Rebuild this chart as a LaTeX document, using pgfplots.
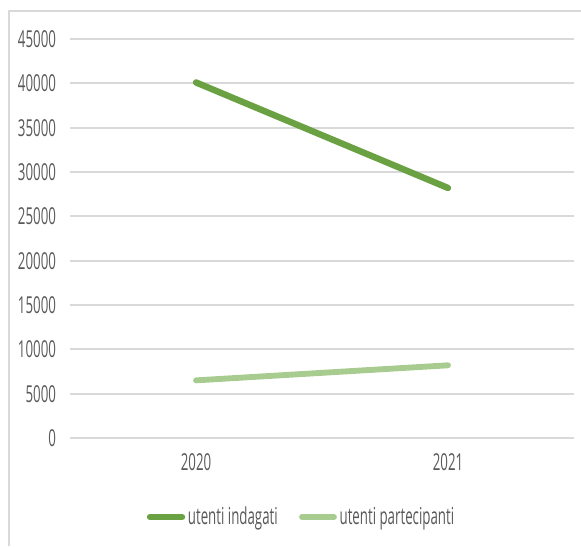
\documentclass[border=0pt]{standalone}
\usepackage{fontspec}
\setmainfont{Open Sans}[FakeStretch=0.57]
\usepackage{pgfplots}
\pgfplotsset{compat=1.18}
\definecolor{darkg}{HTML}{6AA142}
\definecolor{lightg}{HTML}{A8CC90}
\definecolor{gridc}{HTML}{D9D9D9}
\definecolor{txt}{HTML}{595959}
\begin{document}
\begin{tikzpicture}
\useasboundingbox (0,0) rectangle (435.75pt,409.5pt);
% chart frame (left and top edges visible)
\draw[gridc, line width=0.8pt] (6.75pt,0pt) -- (6.75pt,401.25pt) -- (435.75pt,401.25pt);
\begin{axis}[
    at={(52.5pt,81pt)}, anchor=south west,
    scale only axis,
    width=378pt, height=299.25pt,
    xmin=-0.5, xmax=1.5,
    ymin=0, ymax=45000,
    axis line style={draw=none},
    xtick={0,1}, xticklabels={2020,2021},
    ytick={0,5000,...,45000},
    scaled y ticks=false,
    ymajorgrids=true,
    grid style={gridc, line width=1.5pt},
    major tick length=0pt,
    tick label style={font=\fontsize{17.5}{18}\selectfont, text=txt},
    /pgf/number format/1000 sep={},
    /pgf/number format/assume math mode=true,
    yticklabel style={anchor=east, xshift=-7pt},
    xticklabel style={anchor=center, yshift=-18pt},
    legend columns=2,
    legend style={at={(0.46,-0.198)}, anchor=center, draw=none, fill=none,
        font=\fontsize{17.5}{18}\selectfont, text=txt,
        /tikz/every even column/.append style={column sep=14pt}},
    legend image code/.code={\draw[#1, line cap=round] (0pt,0pt) -- (24pt,0pt);},
    clip=false,
]
\addplot[darkg, line width=4.8pt, line cap=round] coordinates {(0,40100) (1,28200)};
\addplot[lightg, line width=4.4pt, line cap=round] coordinates {(0,6500) (1,8200)};
\legend{utenti indagati, utenti partecipanti}
\end{axis}
\end{tikzpicture}
\end{document}
